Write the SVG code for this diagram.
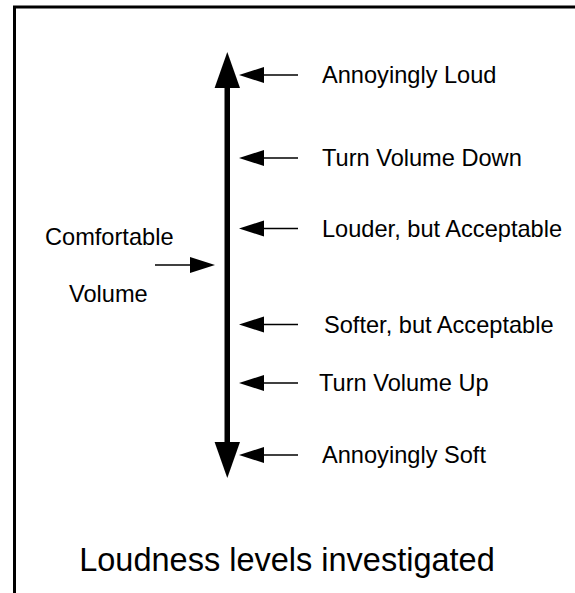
<svg xmlns="http://www.w3.org/2000/svg" width="575" height="593" viewBox="0 0 575 593">
<style>
text{font-family:"Liberation Sans",Arial,sans-serif;font-size:23.6px;fill:#000}
.ln{stroke:#000;stroke-width:1.6;fill:none}
.hd{fill:#000}
</style>
<rect width="575" height="593" fill="#fff"/>
<path d="M14.5,593 V7 H575" fill="none" stroke="#000" stroke-width="3"/>
<g id="connectors">
  <g id="scale-axis">
    <rect x="224.5" y="86" width="5.5" height="358" fill="#000"/>
    <polygon class="hd" points="227.3,52 240,88 214.6,88"/>
    <polygon class="hd" points="227.3,478 240,442 214.6,442"/>
  </g>
  <g id="arrow-loud"><line class="ln" x1="298" y1="75" x2="262" y2="75"/><polygon class="hd" points="239,75 264,67 264,83"/></g>
  <g id="arrow-down"><line class="ln" x1="298" y1="158" x2="262" y2="158"/><polygon class="hd" points="239,158 264,150 264,166"/></g>
  <g id="arrow-louder"><line class="ln" x1="298" y1="228.5" x2="262" y2="228.5"/><polygon class="hd" points="239,228.5 264,220.5 264,236.5"/></g>
  <g id="arrow-softer"><line class="ln" x1="298" y1="324.5" x2="262" y2="324.5"/><polygon class="hd" points="239,324.5 264,316.5 264,332.5"/></g>
  <g id="arrow-up"><line class="ln" x1="298" y1="383" x2="262" y2="383"/><polygon class="hd" points="239,383 264,375 264,391"/></g>
  <g id="arrow-soft"><line class="ln" x1="298" y1="455" x2="262" y2="455"/><polygon class="hd" points="239,455 264,447 264,463"/></g>
  <g id="arrow-comfortable"><line class="ln" x1="155" y1="265" x2="192" y2="265"/><polygon class="hd" points="215,265 190,257 190,273"/></g>
</g>
<g id="label-loud"><text x="322" y="83">Annoyingly Loud</text></g>
<g id="label-down"><text x="322" y="166">Turn Volume Down</text></g>
<g id="label-louder"><text x="322" y="236.5">Louder, but Acceptable</text></g>
<g id="label-softer"><text x="324" y="332.5">Softer, but Acceptable</text></g>
<g id="label-up"><text x="319" y="391">Turn Volume Up</text></g>
<g id="label-soft"><text x="322" y="463">Annoyingly Soft</text></g>
<g id="label-comfortable"><text x="45" y="245">Comfortable</text><text x="69" y="302">Volume</text></g>
<g id="title"><text x="287" y="571" text-anchor="middle" style="font-size:32.5px">Loudness levels investigated</text></g>
</svg>
